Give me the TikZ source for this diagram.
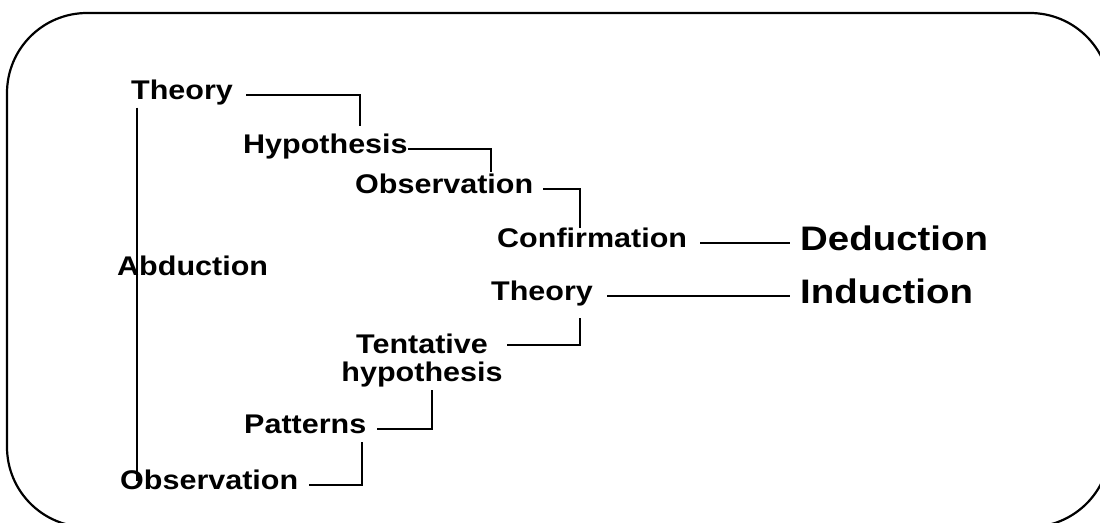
\documentclass[tikz,border=0pt]{standalone}
\usepackage{fontspec}
\newfontfamily\labfont[FakeStretch=1.13]{Liberation Sans Bold}
\begin{document}
\begin{tikzpicture}[x=1pt,y=-1pt,
  lab/.style={inner sep=0pt, anchor=west, text height=0.86em, text depth=0pt,
    font=\labfont\fontsize{27}{29}\selectfont},
  biglab/.style={lab, font=\labfont\fontsize{34}{37}\selectfont},
  link/.style={line width=2.8pt, line cap=butt, line join=miter},
  frame/.style={line width=2.2pt, rounded corners=80pt}]
\useasboundingbox (0,0) rectangle (1100,522);
\clip (0,0) rectangle (1100,522);

% outer frame
\draw[frame] (7,13) rectangle (1110,527);

% labels
\node[lab] (t1)   at (131,95)  {Theory};
\node[lab] (hyp)  at (243,149) {Hypothesis};
\node[lab] (obs1) at (355,189) {Observation};
\node[lab] (conf) at (497,243) {Confirmation};
\node[biglab] (ded) at (800,246) {Deduction};
\node[lab] (t2)   at (491,296) {Theory};
\node[biglab] (ind) at (800,299) {Induction};
\node[inner sep=0pt, anchor=north, align=center,
  font=\labfont\fontsize{27}{28}\selectfont] (tent) at (422,334) {Tentative\\hypothesis};
\node[lab] (pat)  at (244,429) {Patterns};
\node[lab] (obs2) at (120,485) {Observation};
\node[lab] (abd)  at (117,271) {Abduction};

% corner end points of the step connectors
\coordinate (k1) at (360,126);
\coordinate (k2) at (491,172);
\coordinate (k3) at (580,228);
\coordinate (k6) at (580,318);
\coordinate (k6b) at (507,345);
\coordinate (k7) at (432,390);
\coordinate (k8) at (362,442);

% connectors
\draw[link, shorten <=13pt] (t1.east) -| (k1);
\draw[link] (hyp.east) -| (k2);
\draw[link, shorten <=10pt] (obs1.east) -| (k3);
\draw[link, shorten <=13pt, shorten >=10pt] (conf.east) -- (conf.east -| ded.west);
\draw[link, shorten <=14pt, shorten >=10pt] (t2.east) -- (t2.east -| ind.west);
\draw[link] (k6) |- (k6b);
\draw[link, shorten >=11pt] (k7) |- (pat.east);
\draw[link, shorten >=11pt] (k8) |- (obs2.east);
\draw[link] (t1.south west) ++(6,8) coordinate (v1) -- (v1 |- obs2.north);
\end{tikzpicture}
\end{document}
